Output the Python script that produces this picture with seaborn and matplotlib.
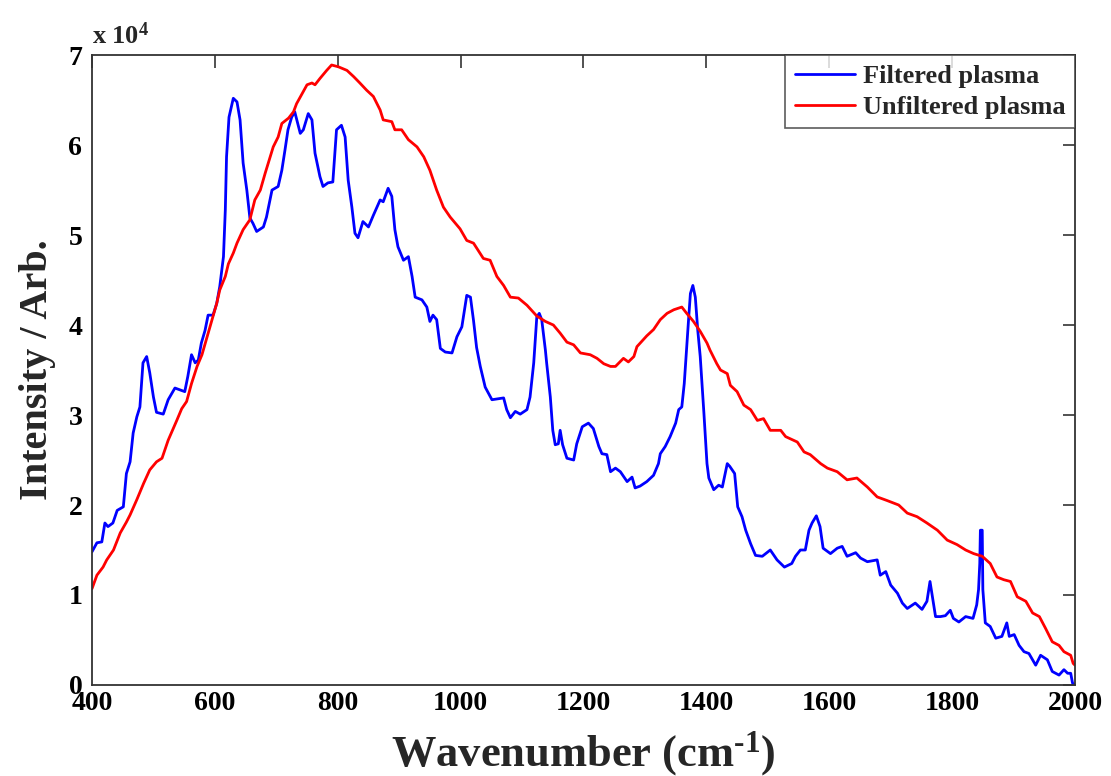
import numpy as np
import pandas as pd
import matplotlib
matplotlib.use("Agg")
import matplotlib.pyplot as plt
import seaborn as sns

# ---- data (intensity in units of 1e4) ----
filtered_x = [400, 408, 416, 421, 426, 434, 441, 451, 456, 462, 467, 473, 478, 483, 489, 494, 500, 505, 516, 524,
              535, 543, 551, 556, 562, 568, 573, 578, 584, 589, 597, 603, 608, 614, 617, 619, 623, 630, 636, 641,
              646, 652, 657, 662, 668, 679, 684, 693, 703, 709, 714, 719, 725, 730, 739, 744, 752, 758, 763, 771,
              776, 784, 792, 798, 806, 812, 817, 823, 828, 833, 841, 850, 858, 869, 874, 882, 888, 893, 898, 907,
              915, 921, 926, 937, 945, 950, 955, 961, 967, 975, 986, 994, 1002, 1010, 1016, 1021, 1026, 1032, 1040, 1051,
              1070, 1075, 1081, 1089, 1097, 1108, 1113, 1119, 1124, 1128, 1132, 1138, 1140, 1146, 1150, 1154, 1159, 1162, 1166, 1173,
              1184, 1189, 1198, 1208, 1216, 1225, 1230, 1238, 1244, 1252, 1260, 1271, 1279, 1284, 1292, 1303, 1314, 1322, 1325, 1333,
              1341, 1350, 1355, 1360, 1364, 1368, 1371, 1374, 1378, 1382, 1386, 1390, 1396, 1401, 1404, 1412, 1420, 1426, 1434, 1438,
              1446, 1451, 1458, 1464, 1472, 1480, 1491, 1504, 1515, 1527, 1539, 1545, 1553, 1561, 1567, 1572, 1579, 1585, 1590, 1602,
              1613, 1621, 1629, 1643, 1651, 1662, 1678, 1683, 1692, 1700, 1711, 1719, 1727, 1740, 1751, 1759, 1764, 1768, 1773, 1781,
              1789, 1797, 1802, 1811, 1822, 1834, 1840, 1843, 1845, 1846, 1849, 1850, 1854, 1862, 1871, 1881, 1889, 1893, 1901, 1909,
              1917, 1925, 1936, 1944, 1955, 1963, 1974, 1982, 1988, 1993, 1996, 2000]
filtered_y = [1.48, 1.58, 1.59, 1.80, 1.76, 1.80, 1.94, 1.98, 2.35, 2.48, 2.80, 2.98, 3.09, 3.58, 3.65, 3.47, 3.20, 3.03, 3.01, 3.17,
              3.30, 3.28, 3.26, 3.43, 3.67, 3.58, 3.61, 3.80, 3.94, 4.11, 4.11, 4.24, 4.43, 4.76, 5.28, 5.87, 6.31, 6.52, 6.48, 6.28,
              5.80, 5.50, 5.19, 5.13, 5.04, 5.09, 5.20, 5.50, 5.54, 5.72, 5.94, 6.17, 6.31, 6.37, 6.13, 6.17, 6.35, 6.28, 5.91, 5.65,
              5.54, 5.58, 5.59, 6.17, 6.22, 6.09, 5.61, 5.31, 5.02, 4.97, 5.15, 5.09, 5.22, 5.39, 5.37, 5.52, 5.43, 5.06, 4.87, 4.72,
              4.76, 4.54, 4.31, 4.28, 4.20, 4.04, 4.11, 4.06, 3.74, 3.70, 3.69, 3.87, 3.98, 4.33, 4.31, 4.05, 3.75, 3.54, 3.31, 3.17,
              3.19, 3.06, 2.97, 3.04, 3.01, 3.06, 3.20, 3.58, 4.09, 4.13, 4.06, 3.72, 3.58, 3.20, 2.83, 2.67, 2.68, 2.83, 2.67, 2.52,
              2.50, 2.68, 2.87, 2.91, 2.85, 2.65, 2.57, 2.56, 2.37, 2.41, 2.37, 2.26, 2.31, 2.19, 2.21, 2.26, 2.33, 2.46, 2.57, 2.65,
              2.76, 2.91, 3.06, 3.09, 3.35, 3.76, 4.06, 4.35, 4.44, 4.31, 3.94, 3.65, 3.02, 2.46, 2.30, 2.17, 2.22, 2.20, 2.46, 2.43,
              2.35, 1.98, 1.87, 1.72, 1.57, 1.44, 1.43, 1.50, 1.39, 1.31, 1.35, 1.43, 1.50, 1.50, 1.72, 1.80, 1.88, 1.76, 1.52, 1.46,
              1.52, 1.54, 1.43, 1.47, 1.41, 1.37, 1.39, 1.22, 1.26, 1.11, 1.02, 0.91, 0.85, 0.91, 0.84, 0.93, 1.15, 0.98, 0.76, 0.76,
              0.77, 0.83, 0.74, 0.70, 0.76, 0.74, 0.89, 1.06, 1.35, 1.72, 1.72, 1.06, 0.69, 0.65, 0.52, 0.54, 0.69, 0.54, 0.56, 0.44,
              0.37, 0.35, 0.22, 0.33, 0.28, 0.15, 0.11, 0.17, 0.13, 0.13, 0.02, 0.00]

unfiltered_x = [400, 408, 418, 424, 435, 446, 456, 462, 473, 484, 494, 505, 514, 524, 538, 546, 554, 562, 571, 579,
                592, 603, 608, 617, 622, 630, 636, 646, 657, 665, 674, 682, 687, 695, 703, 709, 720, 728, 733, 741,
                750, 758, 763, 771, 782, 790, 801, 815, 826, 836, 847, 858, 869, 874, 888, 893, 904, 915, 929, 940,
                950, 961, 972, 983, 999, 1010, 1021, 1037, 1048, 1059, 1070, 1081, 1094, 1108, 1124, 1138, 1151, 1162, 1173, 1184,
                1195, 1211, 1222, 1233, 1244, 1252, 1265, 1273, 1282, 1287, 1303, 1314, 1325, 1336, 1347, 1360, 1368, 1379, 1390, 1401,
                1406, 1417, 1423, 1434, 1439, 1450, 1461, 1472, 1483, 1493, 1504, 1521, 1529, 1548, 1559, 1569, 1586, 1597, 1613, 1629,
                1645, 1662, 1678, 1694, 1713, 1727, 1743, 1759, 1776, 1792, 1808, 1822, 1835, 1849, 1862, 1873, 1884, 1895, 1906, 1920,
                1931, 1942, 1952, 1963, 1974, 1982, 1993, 1997, 2000]
unfiltered_y = [1.07, 1.22, 1.31, 1.39, 1.50, 1.69, 1.81, 1.89, 2.06, 2.24, 2.39, 2.48, 2.52, 2.72, 2.94, 3.07, 3.15, 3.35, 3.54, 3.67,
                3.98, 4.24, 4.39, 4.54, 4.68, 4.80, 4.91, 5.06, 5.17, 5.39, 5.50, 5.69, 5.80, 5.98, 6.09, 6.24, 6.30, 6.37, 6.46, 6.56,
                6.67, 6.69, 6.67, 6.74, 6.83, 6.89, 6.87, 6.83, 6.76, 6.69, 6.61, 6.54, 6.39, 6.28, 6.26, 6.17, 6.17, 6.06, 5.98, 5.87,
                5.72, 5.50, 5.31, 5.20, 5.07, 4.94, 4.91, 4.74, 4.72, 4.54, 4.44, 4.31, 4.30, 4.22, 4.10, 4.04, 4.00, 3.91, 3.81, 3.78,
                3.69, 3.67, 3.63, 3.57, 3.54, 3.54, 3.63, 3.59, 3.65, 3.76, 3.88, 3.95, 4.06, 4.13, 4.17, 4.20, 4.13, 4.04, 3.93, 3.80,
                3.72, 3.57, 3.50, 3.46, 3.33, 3.26, 3.11, 3.06, 2.94, 2.96, 2.83, 2.83, 2.76, 2.70, 2.59, 2.56, 2.46, 2.41, 2.37, 2.28,
                2.30, 2.20, 2.09, 2.05, 2.00, 1.91, 1.87, 1.80, 1.72, 1.61, 1.56, 1.50, 1.46, 1.43, 1.35, 1.20, 1.17, 1.15, 0.98, 0.93,
                0.80, 0.76, 0.63, 0.48, 0.44, 0.37, 0.33, 0.24, 0.22]

series_names = ["Filtered plasma", "Unfiltered plasma"]
series_colors = ["#0000ff", "#ff0000"]
x_ticks = [400, 600, 800, 1000, 1200, 1400, 1600, 1800, 2000]
y_ticks = [0, 1, 2, 3, 4, 5, 6, 7]
y_tick_labels = ["0", "1", "2", "3", "4", "5", "6", "7"]
scale = 1e4

df = pd.concat([
    pd.DataFrame({"x": filtered_x, "y": np.array(filtered_y) * scale, "series": series_names[0]}),
    pd.DataFrame({"x": unfiltered_x, "y": np.array(unfiltered_y) * scale, "series": series_names[1]}),
], ignore_index=True)

sns.set_style("white")
plt.rcParams["font.family"] = ["Liberation Serif", "DejaVu Serif"]
plt.rcParams["font.weight"] = "bold"
plt.rcParams["mathtext.fontset"] = "custom"
plt.rcParams["mathtext.rm"] = "Liberation Serif:bold"
plt.rcParams["mathtext.bf"] = "Liberation Serif:bold"
plt.rcParams["mathtext.it"] = "Liberation Serif:bold"

fig = plt.figure(figsize=(11.11, 7.76), dpi=100)
ax = fig.add_axes([0.0828, 0.1173, 0.9676 - 0.0828, 0.929 - 0.1173])

sns.lineplot(data=df, x="x", y="y", hue="series", palette=series_colors,
             estimator=None, sort=False, linewidth=2.0, ax=ax, legend=False)

ax.set_xlim(400, 2000)
ax.set_ylim(0, 7 * scale)
ax.set_xticks(x_ticks)
ax.set_xticklabels([str(v) for v in x_ticks])
ax.set_yticks([v * scale for v in y_ticks])
ax.set_yticklabels(y_tick_labels)

ax.tick_params(direction="in", length=9, width=1.2, top=True, right=True,
               labelsize=20, colors="#333333", labelcolor="black")
ax.tick_params(axis="x", pad=4)
ax.tick_params(axis="y", pad=7)
for lab in ax.get_xticklabels() + ax.get_yticklabels():
    lab.set_fontweight("bold")
for s in ax.spines.values():
    s.set_linewidth(1.3)
    s.set_color("#333333")

ax.set_xlabel("Wavenumber (cm$^{\\mathregular{\u20101}}$)", fontsize=32, fontweight="bold", labelpad=10)
ax.set_ylabel("Intensity / Arb.", fontsize=29, fontweight="bold")
ax.yaxis.set_label_coords(-0.037, 0.5)
ax.text(0.0, 1.01, r"x 10$^{\mathregular{4}}$", transform=ax.transAxes, fontsize=19,
        fontweight="bold", ha="left", va="bottom")

handles = [plt.Line2D([], [], color=c, linewidth=2.0) for c in series_colors]
leg = ax.legend(handles, series_names, loc="upper right", borderaxespad=0, fancybox=False,
                frameon=True, edgecolor="#333333", prop={"size": 19, "weight": "bold"},
                handlelength=2.3, handletextpad=0.3, labelspacing=0.3, borderpad=0.35)
leg.get_frame().set_linewidth(1.2)

fig.savefig("out.png", dpi=100)
